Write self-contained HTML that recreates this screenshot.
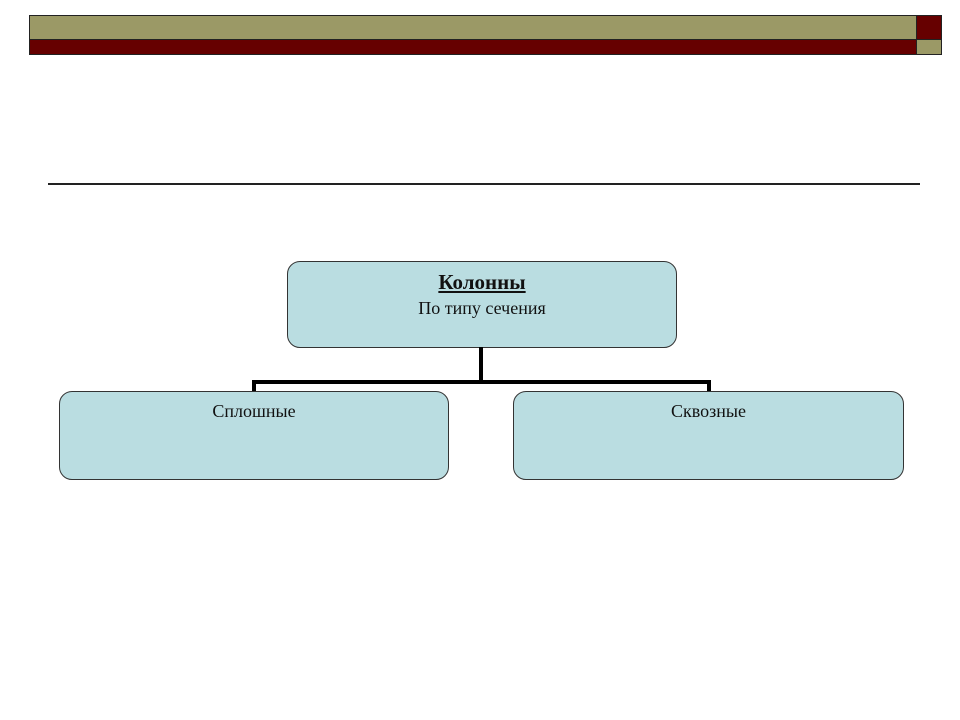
<!DOCTYPE html>
<html><head><meta charset="utf-8"><style>
body{margin:0;width:960px;height:720px;background:#fff;position:relative;overflow:hidden;font-family:"Liberation Serif",serif}
div{position:absolute;box-sizing:border-box}
.b{background:#badde1;border:1.5px solid #333;border-radius:13px;text-align:center;color:#111}
</style></head><body>
<div style="left:29px;top:15px;width:888px;height:25px;background:#9b9966;border:1px solid #222"></div>
<div style="left:29px;top:39px;width:888px;height:16px;background:#660000;border:1px solid #222"></div>
<div style="left:916px;top:15px;width:26px;height:25px;background:#660000;border:1px solid #222"></div>
<div style="left:916px;top:39px;width:26px;height:16px;background:#9b9966;border:1px solid #222"></div>
<div style="left:48px;top:183px;width:872px;height:1.5px;background:#222"></div>
<div class="b" style="left:287px;top:261px;width:390px;height:87px"><div style="position:static;margin-top:8px;font-size:21px;font-weight:bold;text-decoration:underline">Колонны</div><div style="position:static;font-size:18px;margin-top:3px">По типу сечения</div></div>
<div style="left:479px;top:347px;width:4px;height:37px;background:#000"></div>
<div style="left:252px;top:380px;width:459px;height:4px;background:#000"></div>
<div style="left:252px;top:380px;width:4px;height:12px;background:#000"></div>
<div style="left:707px;top:380px;width:4px;height:12px;background:#000"></div>
<div class="b" style="left:59px;top:391px;width:390px;height:89px;font-size:18px;padding-top:9px">Сплошные</div>
<div class="b" style="left:513px;top:391px;width:391px;height:89px;font-size:18px;padding-top:9px">Сквозные</div>
</body></html>
